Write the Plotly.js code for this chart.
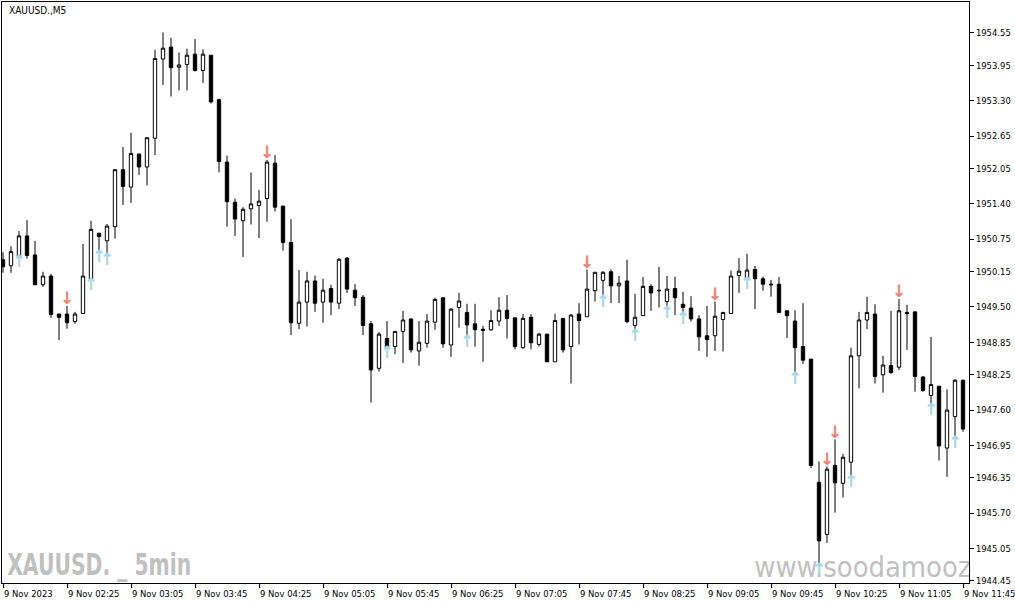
<!DOCTYPE html>
<html><head><meta charset="utf-8">
<script src="https://cdn.plot.ly/plotly-3.0.1.min.js"></script>
<style>html,body{margin:0;padding:0;background:#fff;}#chart{width:1015px;height:605px;}</style>
</head><body><div id="chart"></div>
<script>
const chartTitle = 'XAUUSD.,M5';
const watermarkLeft = 'XAUUSD. _ 5min';
const watermarkRight = 'www.soodamooz.com';
const startMinutes = 105; // 01:45, 5-minute bars

const open = [1950.37,1950.26,1950.43,1950.81,1950.46,1949.91,1950.07,1949.37,1949.37,1949.23,
1949.38,1950.01,1950.86,1950.72,1950.98,1952.03,1951.71,1952.32,1952.08,1952.61,
1954.07,1954.29,1953.92,1953.97,1954.16,1953.86,1954.14,1953.32,1952.17,1951.43,
1951.09,1951.31,1951.37,1951.50,1952.15,1951.36,1950.69,1949.20,1949.59,1949.98,
1949.59,1949.84,1949.57,1950.40,1949.81,1949.68,1949.19,1948.37,1948.92,1948.77,
1949.05,1949.28,1948.69,1948.83,1949.22,1949.67,1948.80,1949.49,1949.40,1949.19,
1949.09,1949.08,1949.24,1949.44,1949.30,1948.75,1949.31,1948.81,1949.00,1948.49,
1949.29,1948.77,1949.37,1949.32,1949.80,1949.99,1950.15,1949.89,1949.98,1949.16,
1949.34,1949.88,1949.81,1949.60,1949.84,1949.55,1949.48,1949.28,1948.97,1948.97,
1949.27,1949.38,1950.08,1950.02,1950.19,1950.02,1949.92,1949.92,1949.43,1949.24,
1948.77,1948.54,1946.27,1945.31,1946.58,1946.25,1946.64,1948.60,1949.26,1949.37,
1948.25,1948.42,1948.39,1949.40,1949.41,1948.21,1947.87,1948.04,1946.90,1947.48,
1948.15];
const high = [1950.51,1950.62,1950.90,1951.10,1950.72,1950.15,1950.11,1949.37,1949.52,1949.41,
1950.66,1951.09,1950.86,1951.03,1952.04,1952.45,1952.71,1952.32,1952.62,1954.24,
1954.56,1954.46,1954.19,1954.26,1954.44,1954.25,1954.14,1953.34,1952.29,1951.50,
1951.34,1951.98,1951.66,1952.21,1952.30,1951.36,1951.12,1950.18,1950.15,1950.08,
1950.02,1949.91,1950.40,1950.42,1949.92,1949.72,1949.24,1949.04,1949.24,1949.05,
1949.43,1949.28,1949.24,1949.37,1949.67,1949.67,1949.48,1949.76,1949.56,1949.56,
1949.15,1949.44,1949.68,1949.72,1949.30,1949.37,1949.37,1949.02,1949.00,1949.38,
1949.29,1949.37,1949.57,1950.19,1950.14,1950.16,1950.19,1950.07,1950.37,1949.74,
1950.05,1949.92,1950.24,1950.07,1950.06,1949.78,1949.70,1949.35,1949.52,1949.60,
1949.40,1950.17,1950.40,1950.48,1950.26,1950.06,1950.00,1950.05,1949.43,1949.44,
1949.57,1948.54,1946.65,1946.56,1947.06,1946.79,1948.75,1949.41,1949.69,1949.55,
1948.60,1949.43,1949.65,1949.54,1949.41,1948.23,1948.95,1948.04,1947.98,1948.17,
1948.16];
const low = [1950.13,1950.13,1950.42,1950.39,1949.91,1949.87,1949.30,1948.89,1949.10,1949.19,
1949.38,1950.00,1950.52,1950.46,1950.76,1951.38,1951.42,1951.93,1951.74,1952.30,
1953.59,1953.38,1953.49,1953.49,1953.84,1953.63,1953.25,1951.98,1950.98,1950.81,
1950.42,1951.02,1950.77,1951.07,1951.26,1950.54,1948.98,1949.09,1949.14,1949.41,
1949.21,1949.35,1949.46,1949.76,1949.52,1948.98,1947.74,1948.31,1948.74,1948.63,
1948.47,1948.66,1948.42,1948.75,1949.08,1948.75,1948.58,1949.12,1948.95,1948.77,
1948.49,1949.06,1949.15,1948.92,1948.72,1948.73,1948.72,1948.77,1948.49,1948.49,
1948.66,1948.09,1948.81,1949.32,1949.60,1949.68,1949.57,1949.57,1949.20,1949.06,
1949.34,1949.43,1949.49,1949.49,1949.35,1949.38,1949.23,1948.69,1948.58,1948.69,
1948.68,1949.38,1949.76,1950.02,1949.46,1949.80,1949.69,1949.40,1948.93,1948.27,
1948.45,1946.53,1944.75,1945.15,1945.71,1945.99,1946.37,1948.00,1949.09,1948.09,
1947.92,1948.27,1948.34,1948.71,1947.94,1947.94,1947.69,1946.67,1946.37,1947.09,
1947.20];
const close = [1950.24,1950.52,1950.81,1950.45,1949.91,1950.07,1949.36,1949.31,1949.21,1949.37,
1950.07,1950.93,1950.80,1950.99,1952.03,1951.72,1952.33,1952.08,1952.62,1954.08,
1954.27,1953.91,1953.96,1954.14,1953.86,1954.16,1953.28,1952.18,1951.44,1951.12,
1951.30,1951.40,1951.45,1952.17,1951.34,1950.69,1949.21,1949.59,1949.98,1949.57,
1949.81,1949.59,1950.38,1949.83,1949.67,1949.16,1948.34,1949.00,1948.75,1949.05,
1949.26,1948.71,1948.85,1949.24,1949.64,1948.82,1949.46,1949.61,1949.17,1949.08,
1949.07,1949.25,1949.44,1949.29,1948.77,1949.29,1948.84,1949.00,1948.49,1949.25,
1948.71,1949.35,1949.25,1949.83,1950.14,1950.14,1949.89,1949.94,1949.23,1949.31,
1949.88,1949.76,1949.80,1949.83,1949.67,1949.49,1949.28,1948.95,1948.90,1949.33,
1949.40,1950.07,1950.16,1950.18,1950.02,1949.92,1949.91,1949.40,1949.34,1948.75,
1948.52,1946.58,1945.19,1946.51,1946.26,1946.73,1948.60,1949.26,1949.40,1948.22,
1948.43,1948.29,1949.43,1949.38,1948.22,1947.96,1948.07,1946.94,1947.60,1948.15,
1947.25];

const upArrowBars = [2,11,12,13,48,58,75,79,83,85,93,99,102,106,116,119];
const downArrowBars = [8,33,73,89,103,104,112];

const xTickBars = [0,8,16,24,32,40,48,56,64,72,80,88,96,104,112,120];
const xTickLabels = ['9 Nov 2023','9 Nov 02:25','9 Nov 03:05','9 Nov 03:45','9 Nov 04:25','9 Nov 05:05',
'9 Nov 05:45','9 Nov 06:25','9 Nov 07:05','9 Nov 07:45','9 Nov 08:25','9 Nov 09:05','9 Nov 09:45',
'9 Nov 10:25','9 Nov 11:05','9 Nov 11:45'];
const yTickValues = [1954.55,1953.95,1953.30,1952.65,1952.05,1951.40,1950.75,1950.15,1949.50,
1948.85,1948.25,1947.60,1946.95,1946.35,1945.70,1945.05,1944.45];

// bar index and time label for each candle
const bars = open.map((_, i) => i);
const times = bars.map(i => {
  const m = startMinutes + 5 * i;
  return '9 Nov ' + String(Math.floor(m / 60)).padStart(2, '0') + ':' + String(m % 60).padStart(2, '0');
});

const FONT = '"DejaVu Sans Condensed", "Liberation Sans", sans-serif';
const arrowGap = 0.11;

const data = [
  {
    type: 'scatter', mode: 'text', x: [93.9], y: [1944.65], text: [watermarkRight],
    textposition: 'middle right', cliponaxis: true, hoverinfo: 'skip',
    textfont: {family: FONT, size: 28.8, color: '#c0c0c0'}
  },
  {
    type: 'candlestick', x: bars, open: open, high: high, low: low, close: close,
    text: times, hoverinfo: 'text+y',
    whiskerwidth: 0,
    increasing: {line: {color: '#000000', width: 1}, fillcolor: '#ffffff'},
    decreasing: {line: {color: '#000000', width: 1}, fillcolor: '#000000'}
  },
  {
    type: 'scatter', mode: 'text', hoverinfo: 'skip',
    x: upArrowBars, y: upArrowBars.map(i => low[i] - arrowGap),
    text: upArrowBars.map(() => '↑'),
    textfont: {family: 'DejaVu Sans', size: 17, weight: 'bold', color: '#a6d6ea'}
  },
  {
    type: 'scatter', mode: 'text', hoverinfo: 'skip',
    x: downArrowBars, y: downArrowBars.map(i => high[i] + arrowGap),
    text: downArrowBars.map(() => '↓'),
    textfont: {family: 'DejaVu Sans', size: 17, weight: 'bold', color: '#f57f6e'}
  }
];

const layout = {
  width: 1015, height: 605,
  margin: {l: 2, r: 46, t: 2, b: 22, pad: 0},
  paper_bgcolor: '#ffffff', plot_bgcolor: '#ffffff',
  showlegend: false,
  boxgap: 0.4,
  xaxis: {
    range: [-0.125, 120.75], showgrid: false, zeroline: false,
    showline: true, mirror: true, linecolor: '#000000', linewidth: 1,
    ticks: 'outside', ticklen: 4, tickcolor: '#000000', tickwidth: 1,
    tickvals: xTickBars, ticktext: xTickLabels,
    ticklabelposition: 'outside right', ticklabeloverflow: 'allow', ticklabelstandoff: 2,
    tickfont: {family: FONT, size: 9.4, color: '#000000'},
    rangeslider: {visible: false}, fixedrange: true
  },
  yaxis: {
    side: 'right', range: [1944.413, 1955.121], showgrid: false, zeroline: false,
    showline: true, mirror: true, linecolor: '#000000', linewidth: 1,
    ticks: 'outside', ticklen: 4, tickcolor: '#000000', tickwidth: 1,
    tickvals: yTickValues, tickformat: '.2f',
    tickfont: {family: FONT, size: 9.4, color: '#000000'},
    fixedrange: true
  },
  annotations: [
    {
      xref: 'paper', yref: 'paper', x: 0.0052, y: 0.985, xanchor: 'left', yanchor: 'middle',
      text: chartTitle, showarrow: false,
      font: {family: FONT, size: 10, color: '#000000'}
    },
    {
      xref: 'paper', yref: 'paper', x: 0.1008, y: 0.0327, xanchor: 'center', yanchor: 'middle',
      text: watermarkLeft, showarrow: false,
      font: {family: '"Liberation Sans Narrow", "DejaVu Sans Condensed", sans-serif', size: 30, weight: 'bold', color: '#c0c0c0'}
    }
  ]
};

Plotly.newPlot('chart', data, layout, {displayModeBar: false, responsive: false}).then(gd => {
  const texts = gd.querySelectorAll('.annotation-text');
  texts.forEach(t => {
    if (t.textContent === watermarkLeft) {
      t.setAttribute('textLength', '184');
      t.setAttribute('lengthAdjust', 'spacingAndGlyphs');
    }
  });
});
</script>
</body></html>
